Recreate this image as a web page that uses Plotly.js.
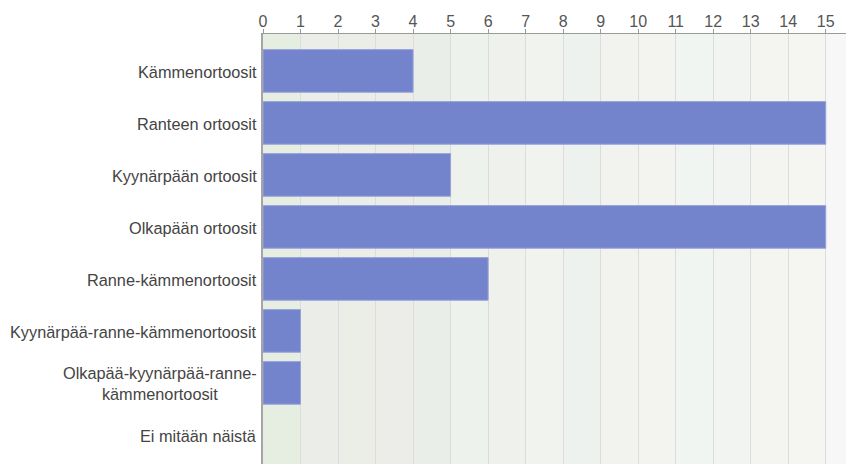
<!DOCTYPE html>
<html>
<head>
<meta charset="utf-8">
<script src="https://cdn.plot.ly/plotly-3.0.1.min.js"></script>
<style>html,body{margin:0;padding:0;background:#fff;}#chart{width:846px;height:464px;}</style>
</head>
<body>
<div id="chart"></div>
<script>
// Data
const categories = [
  "Kämmenortoosit",
  "Ranteen ortoosit",
  "Kyynärpään ortoosit",
  "Olkapään ortoosit",
  "Ranne-kämmenortoosit",
  "Kyynärpää-ranne-kämmenortoosit",
  "Olkapää-kyynärpää-ranne-<br>kämmenortoosit",
  "Ei mitään näistä"
];
const counts = [4, 15, 5, 15, 6, 1, 1, 0];
const tickValues = [0,1,2,3,4,5,6,7,8,9,10,11,12,13,14,15];

// Background column colours (style only)
const bandColors = ["#e6eee2","#ebeee8","#ebede7","#ecede8","#eaeee9","#eef2ec","#eff2ec","#f0f3ee",
                    "#eef2ee","#f2f3ee","#f3f4ef","#f1f5f2","#f1f4f0","#f4f5f0","#f5f6f2"];
const XMAX = 15.54;

const shapes = bandColors.map((c, i) => ({
  type: "rect", xref: "x", yref: "paper", x0: i, x1: i + 1, y0: 0, y1: 1,
  fillcolor: c, line: {width: 0}, layer: "below"
}));
shapes.push({type: "rect", xref: "x", yref: "paper", x0: 15, x1: XMAX, y0: 0, y1: 1,
  fillcolor: "#f7f7f7", line: {width: 0}, layer: "below"});

const annotations = categories.map(c => ({
  text: c, xref: "paper", x: 0, xanchor: "right", xshift: -4,
  yref: "y", y: c, yanchor: "middle", yshift: -1, align: "center", showarrow: false,
  font: {family: "Liberation Sans, Arial, sans-serif", size: 16.3, color: "#444444"}
}));

const trace = {
  type: "bar", orientation: "h",
  y: categories, x: counts, width: 0.82,
  marker: {color: "#7484cc", line: {color: "#98a3da", width: counts.map(v => v > 0 ? 1 : 0)}},
  hoverinfo: "x+y"
};

const layout = {
  width: 846, height: 464,
  margin: {l: 263, r: 0, t: 34, b: 0, pad: 0},
  paper_bgcolor: "#ffffff", plot_bgcolor: "#eef1ea",
  showlegend: false, bargap: 0.18,
  font: {family: "Liberation Sans, Arial, sans-serif", size: 16, color: "#555555"},
  xaxis: {
    side: "top", range: [0, XMAX], tickvals: tickValues, ticktext: tickValues.map(String),
    showgrid: true, gridcolor: "#dcdcdc", gridwidth: 1, zeroline: false,
    showline: true, linecolor: "#9a9a9a", linewidth: 1,
    ticks: "outside", ticklen: 4, tickcolor: "#9a9a9a", ticklabelstandoff: -4,
    tickfont: {size: 16, color: "#555555"}, fixedrange: true
  },
  yaxis: {
    type: "category", categoryorder: "array", categoryarray: categories,
    range: [7.56, -0.71], showticklabels: false, showgrid: false, zeroline: false,
    showline: true, linecolor: "#a5a5a5", linewidth: 2, ticks: "", fixedrange: true
  },
  shapes: shapes,
  annotations: annotations
};

Plotly.newPlot("chart", [trace], layout, {displayModeBar: false, staticPlot: true});
</script>
</body>
</html>
